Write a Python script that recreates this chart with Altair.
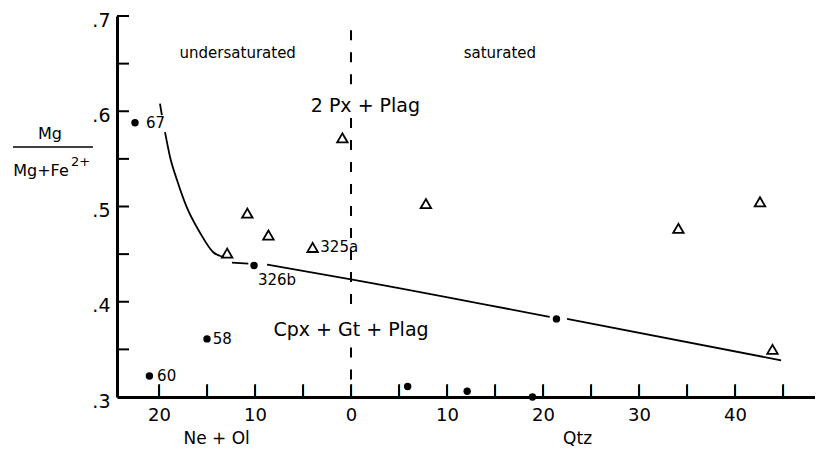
import altair as alt
import pandas as pd

FONT = "DejaVu Sans"

# ---- data ----
solid_x = [-22.5, -21.0, -15.0, -10.1, 5.9, 12.1, 18.9, 21.4]
solid_y = [0.588, 0.322, 0.361, 0.438, 0.311, 0.306, 0.300, 0.382]

tri_x = [-12.9, -10.8, -8.6, -4.0, -0.9, 7.8, 34.1, 42.6, 43.9]
tri_y = [0.451, 0.493, 0.470, 0.457, 0.572, 0.503, 0.477, 0.505, 0.350]

# sample labels
lab_text = ["67", "60", "58", "326b", "325a"]
lab_x = [-21.35, -20.2, -14.4, -9.7, -3.2]
lab_y = [0.588, 0.322, 0.361, 0.4225, 0.457]

# boundary curve (pieces separated by gaps at symbols)
curve_seg = ["a", "a",
             "b", "b", "b", "b", "b", "b", "b",
             "c", "c",
             "d", "d", "d",
             "e", "e"]
curve_x = [-19.9, -19.7,
           -19.375, -18.85, -18.1, -17.1, -15.7, -14.35, -13.3,
           -12.4, -10.7,
           -8.75, 0.0, 20.7,
           22.5, 44.8]
curve_y = [0.608, 0.596,
           0.578, 0.552, 0.527, 0.499, 0.472, 0.452, 0.447,
           0.441, 0.440,
           0.439, 0.4236, 0.384,
           0.382, 0.3385]

# dashed saturation line at x = 0 (broken around text)
dash_y1 = [0.685, 0.593, 0.352]
dash_y2 = [0.620, 0.390, 0.300]

# field annotations
big_text = ["2 Px + Plag", "Cpx + Gt + Plag"]
big_x = [1.5, 0.0]
big_y = [0.605, 0.370]
small_text = ["undersaturated", "saturated"]
small_x = [-11.8, 15.5]
small_y = [0.661, 0.661]

# axes
x_tick_vals = [-20, -15, -10, -5, 0, 5, 10, 15, 20, 25, 30, 35, 40, 45]
x_label_vals = [-20, -10, 0, 10, 20, 30, 40]
y_tick_vals = [0.35, 0.4, 0.45, 0.5, 0.55, 0.6, 0.65, 0.7]
y_label_vals = [0.3, 0.4, 0.5, 0.6, 0.7]
x_titles = ["Ne + Ol", "Qtz"]
x_title_x = [-14.0, 23.6]

W, H = 698, 381
X_MIN, X_MAX = -24.375, 48.33
Y_MIN, Y_MAX = 0.3, 0.7
TICK_LEN = 12  # px
xs = alt.Scale(domain=[X_MIN, X_MAX], nice=False, zero=False)
ys = alt.Scale(domain=[Y_MIN, Y_MAX], nice=False, zero=False)

solid = pd.DataFrame({"x": solid_x, "y": solid_y})
tri = pd.DataFrame({"x": tri_x, "y": tri_y})
labs = pd.DataFrame({"t": lab_text, "x": lab_x, "y": lab_y})
curve = pd.DataFrame({"s": curve_seg, "x": curve_x, "y": curve_y})
dash = pd.DataFrame({"x": [0.0] * len(dash_y1), "y": dash_y1, "y2": dash_y2})
big = pd.DataFrame({"t": big_text, "x": big_x, "y": big_y})
small = pd.DataFrame({"t": small_text, "x": small_x, "y": small_y})
xtitle = pd.DataFrame({"t": x_titles, "x": x_title_x})

# inward-pointing ticks, built from the tick value lists (sizes in data units)
ylen = TICK_LEN * (Y_MAX - Y_MIN) / H
xlen = TICK_LEN * (X_MAX - X_MIN) / W
half_w = 1.0 * (X_MAX - X_MIN) / W  # half of a 2px stroke
xticks = pd.DataFrame({
    "x": [float(v) - half_w for v in x_tick_vals],
    "x2": [float(v) + half_w for v in x_tick_vals],
    "y": [Y_MIN] * len(x_tick_vals),
    "y2": [Y_MIN + ylen] * len(x_tick_vals),
})
xtick_pos = pd.DataFrame({"x": [float(v) for v in x_tick_vals]})
yticks = pd.DataFrame({
    "x": [X_MIN] * len(y_tick_vals),
    "x2": [X_MIN + xlen] * len(y_tick_vals),
    "y": y_tick_vals,
    "y2": y_tick_vals,
})

x_axis = alt.Axis(
    values=x_label_vals, labelExpr="'' + abs(datum.value)", ticks=False,
    grid=False, domainWidth=3, domainColor="black", title=None,
    labelFontSize=18, labelColor="black", labelPadding=9, labelFont=FONT)
y_axis = alt.Axis(
    values=y_label_vals, labelExpr="replace(format(datum.value, '.1f'), '0.', '.')",
    ticks=False, grid=False, domainWidth=3, domainColor="black", title=None,
    labelFontSize=19, labelColor="black", labelPadding=7, labelOffset=4, labelFont=FONT)


def X():
    return alt.X("x:Q", scale=xs, axis=x_axis)


def Y():
    return alt.Y("y:Q", scale=ys, axis=y_axis)


solid_layer = alt.Chart(solid).mark_circle(size=55, color="black", opacity=1).encode(x=X(), y=Y())

tri_layer = alt.Chart(tri).mark_point(shape="triangle-up", size=110, color="black",
                                      filled=False, strokeWidth=1.8, opacity=1).encode(x=X(), y=Y())

curve_layer = alt.Chart(curve).mark_line(color="black", strokeWidth=1.8, interpolate="monotone").encode(
    x=X(), y=Y(), detail="s:N")

dash_layer = alt.Chart(dash).mark_rule(color="black", strokeWidth=2, strokeDash=[10, 12]).encode(
    x=X(), y=Y(), y2="y2:Q")

lab_layer = alt.Chart(labs).mark_text(align="left", baseline="middle", fontSize=15, font=FONT,
                                      color="black").encode(x=X(), y=Y(), text="t:N")

big_layer = alt.Chart(big).mark_text(align="center", baseline="middle", fontSize=19, font=FONT,
                                     color="black").encode(x=X(), y=Y(), text="t:N")

small_layer = alt.Chart(small).mark_text(align="center", baseline="middle", fontSize=15, font=FONT,
                                         color="black").encode(x=X(), y=Y(), text="t:N")

# x ticks as thin filled rectangles, plus a glyph version at the same spots
xtick_layer = alt.Chart(xticks).mark_rect(color="black", opacity=1).encode(
    x=X(), x2="x2:Q", y=Y(), y2="y2:Q")
xtick_glyph = alt.Chart(xtick_pos).mark_text(
    align="center", baseline="alphabetic", fontSize=13, fontWeight="bold", font=FONT,
    color="black").encode(x=X(), y=alt.value(H - 3), text=alt.value("|"))
ytick_layer = alt.Chart(yticks).mark_rule(color="black", strokeWidth=2).encode(
    x=X(), x2="x2:Q", y=Y(), y2="y2:Q")

xtitle_layer = alt.Chart(xtitle).mark_text(align="center", baseline="alphabetic", fontSize=17, font=FONT,
                                           color="black").encode(x=X(), y=alt.value(428), text="t:N")

# y-axis title drawn as a fraction
mg_layer = alt.Chart(pd.DataFrame({"t": ["Mg"]})).mark_text(
    align="center", baseline="middle", fontSize=16, font=FONT, color="black").encode(
    x=alt.value(-67), y=alt.value(118), text="t:N")
mgfe_layer = alt.Chart(pd.DataFrame({"t": ["Mg+Fe"]})).mark_text(
    align="center", baseline="middle", fontSize=16, font=FONT, color="black").encode(
    x=alt.value(-76), y=alt.value(155), text="t:N")
sup_layer = alt.Chart(pd.DataFrame({"t": ["2+"]})).mark_text(
    align="left", baseline="middle", fontSize=13, font=FONT, color="black").encode(
    x=alt.value(-46), y=alt.value(146), text="t:N")
bar_layer = alt.Chart(pd.DataFrame({"t": ["bar"]})).mark_rule(color="black", strokeWidth=1.5).encode(
    x=alt.value(-104), x2=alt.value(-24), y=alt.value(131))

chart = alt.layer(
    solid_layer, dash_layer, curve_layer, tri_layer, lab_layer, big_layer, small_layer,
    xtick_layer, xtick_glyph, ytick_layer, xtitle_layer, mg_layer, mgfe_layer, sup_layer, bar_layer
).properties(
    width=W, height=H,
    padding={"left": 109, "top": 8, "right": 0, "bottom": 51},
    autosize=alt.AutoSizeParams(type="none"),
    background="white",
).configure(font=FONT).configure_view(stroke=None)

chart.save("out.html", embed_options={"renderer": "svg", "actions": False})
